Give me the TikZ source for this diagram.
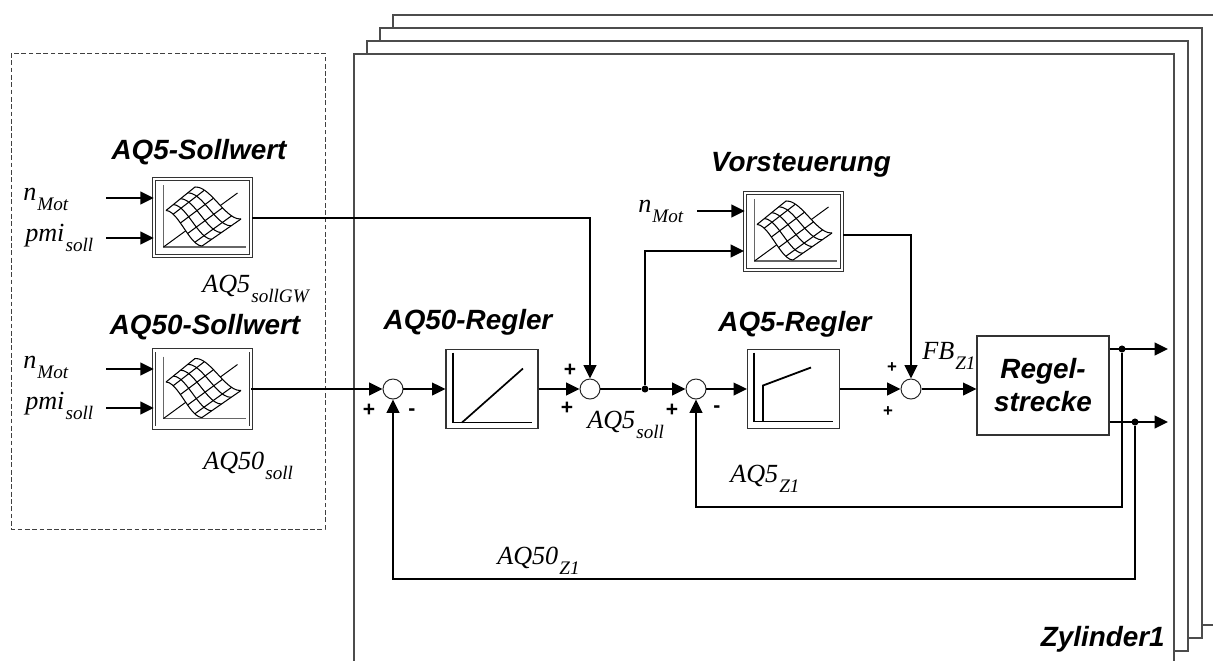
\documentclass[tikz,border=0pt]{standalone}
\usepackage{fontspec}
\setmainfont{Liberation Serif}
\setsansfont{Liberation Sans}
\usetikzlibrary{arrows.meta}
\newcommand{\Sig}[2]{{\fontsize{18.6}{20}\selectfont\itshape #1\kern.8pt\raisebox{-.85ex}{\fontsize{13.6}{15}\selectfont #2}}}
\tikzstyle{frame}=[line width=.8pt,draw=black!70,fill=white]
\tikzstyle{sig}=[line width=1.3pt,-{Triangle[length=9.5pt,width=9pt]}]
\tikzstyle{wire}=[line width=1.3pt]
\tikzstyle{summer}=[circle,draw=black!85,line width=.7pt,fill=white,inner sep=0pt,minimum size=.5cm]
\tikzstyle{dot}=[circle,fill=black,inner sep=0pt,minimum size=5pt]
\tikzstyle{mapblock}=[draw=black!80,line width=.5pt,double,double distance=1.7pt,fill=white,minimum width=2.42cm,minimum height=1.93cm,inner sep=0pt]
\tikzstyle{ctrlblock}=[draw=black!80,line width=.8pt,fill=white,minimum width=2.3cm,minimum height=1.975cm,inner sep=0pt]
\tikzstyle{titel}=[font=\fontsize{19.8}{23.5}\selectfont\sffamily\bfseries\itshape,align=center,inner sep=0pt]
\tikzstyle{signal}=[anchor=base west,inner sep=0pt]
\tikzstyle{plus}=[font=\fontsize{15}{16}\selectfont\sffamily\bfseries,inner sep=0pt]
\tikzstyle{smallplus}=[font=\fontsize{12}{13}\selectfont\sffamily\bfseries,inner sep=0pt]
\tikzset{
  kennfeld/.pic={
    \draw[line width=1.1pt,black!60] (-39,-32.5) -- (-39,29.5) -- (43,29.5);
    \draw[line width=.7pt] (-39,29.5) -- (35,-24.5);
    \fill[white] plot[domain=0:1,samples=13,smooth] ({-36.5+36*\x},{-7+35.5*(3*\x*\x-2*\x*\x*\x)})
      -- plot[domain=1:0,samples=13,smooth] ({-7.5+46*\x},{-30.5+32*(3*\x*\x-2*\x*\x*\x)}) -- cycle;
    \foreach \u in {0,.25,.5,.75,1}
      \draw[line width=.75pt] plot[domain=0:1,samples=13,smooth]
        ({-36.5+36*\x+29*\u+10*\u*\x},{-7+35.5*(3*\x*\x-2*\x*\x*\x)-23.5*\u-3.5*\u*\x});
    \foreach \v/\s in {0/0,.2/.104,.4/.352,.6/.648,.8/.896,1/1}
      \draw[line width=.75pt] (-36.5+36*\v,-7+35.5*\s) -- (-7.5+46*\v,-30.5+32*\s);
  },
  reglerp/.pic={
    \draw[line width=.9pt] (-39,-36.5) -- (-39,33.5) -- (40,33.5);
    \draw[line width=1.2pt] (-30,33.5) -- (31,-20.5);
  },
  reglerq/.pic={
    \draw[line width=.9pt] (-39.5,-36.5) -- (-39.5,32.5) -- (39.5,32.5);
    \draw[line width=1.3pt] (-30.5,32.5) -- (-30.5,-3.5) -- (17.5,-21.5);
  }
}
\begin{document}
\begin{tikzpicture}[x=.025cm,y=-.025cm]
  \useasboundingbox (0,0) rectangle (1213,660);
  %% Zylinder stack
  \begin{scope}
    \clip (0,0) rectangle (1213,660);
    \foreach \d in {39,26,13,0}
      \draw[frame] (354+\d,54-\d) rectangle (1174+\d+\d/13,664-\d);
  \end{scope}
  \draw (1165,639) node[titel,anchor=east] (zyl) {Zylinder1};

  %% Sollwert box
  \draw[line width=.6pt,black!75,dash pattern=on 3.4pt off 1.8pt] (11,53) rectangle (325,529);

  \draw (202.5,217.5) node[mapblock] (map5) {};
  \draw (202.5,389) node[mapblock] (map50) {};
  \draw (793.5,231.5) node[mapblock] (vorst) {};
  \draw (492,389) node[ctrlblock] (regA) {};
  \draw (793.5,389) node[ctrlblock] (regB) {};
  \draw (1043,385.5) node[ctrlblock,minimum width=3.3cm,minimum height=2.475cm,titel] (strecke) {Regel-\\strecke};
  \pic at (202.5,217.5) {kennfeld};
  \pic at (202.5,389) {kennfeld};
  \pic at (793.5,231.5) {kennfeld};
  \pic at (492,389) {reglerp};
  \pic at (793.5,389) {reglerq};

  \draw (393,389) node[summer] (s1) {};
  \draw (590,389) node[summer] (s2) {};
  \draw (696,389) node[summer] (s3) {};
  \draw (911,389) node[summer] (s4) {};
  \draw (645,389) node[dot] (d1) {};
  \draw (1122,349) node[dot] (d2) {};
  \draw (1135,422) node[dot] (d3) {};

  \coordinate (in1) at (106,198);
  \coordinate (in2) at (106,238);
  \coordinate (in3) at (106,369);
  \coordinate (in4) at (106,408);
  \coordinate (in5) at (697,211);
  \coordinate (in6) at (744,251);
  \coordinate (o5) at (252,218);
  \coordinate (ov) at (843,235);
  \coordinate (out1) at (1168,349);
  \coordinate (out2) at (1168,422);
  \coordinate (back1) at (696,507);
  \coordinate (back2) at (393,579);

  %% Signal lines
  \draw[sig] (in1) -- (in1 -| map5.west);
  \draw[sig] (in2) -- (in2 -| map5.west);
  \draw[sig] (in3) -- (in3 -| map50.west);
  \draw[sig] (in4) -- (in4 -| map50.west);
  \draw[sig] (in5) -- (in5 -| vorst.west);
  \draw[sig] (d1) |- (in6);
  \draw[sig] (o5) -| (s2);
  \draw[sig] (map50) -- (s1);
  \draw[sig] (s1) -- (regA);
  \draw[sig] (regA) -- (s2);
  \draw[wire] (s2) -- (d1);
  \draw[sig] (d1) -- (s3);
  \draw[sig] (s3) -- (regB);
  \draw[sig] (regB) -- (s4);
  \draw[sig] (ov) -| (s4);
  \draw[sig] (s4) -- (s4 -| strecke.west);
  \draw[sig] (out1 -| strecke.east) -- (out1);
  \draw[sig] (out2 -| strecke.east) -- (out2);
  \draw[sig] (d2) |- (back1) -- (s3);
  \draw[sig] (d3) |- (back2) -- (s1);

  %% Titles
  \draw (199,152) node[titel] (t1) {AQ5-Sollwert};
  \draw (205,327) node[titel] (t2) {AQ50-Sollwert};
  \draw (468,322) node[titel] (t3) {AQ50-Regler};
  \draw (795,324) node[titel] (t4) {AQ5-Regler};
  \draw (801,165) node[titel] (t5) {Vorsteuerung};

  %% Signal names
  \draw (23,200) node[signal] (l1) {\Sig{n}{Mot}};
  \draw (25,241) node[signal] (l2) {\Sig{pmi}{soll}};
  \draw (23,368) node[signal] (l3) {\Sig{n}{Mot}};
  \draw (25,409) node[signal] (l4) {\Sig{pmi}{soll}};
  \draw (638,212) node[signal] (l5) {\Sig{n}{Mot}};
  \draw (202,292) node[signal] (l6) {\Sig{AQ5}{sollGW}};
  \draw (203,469) node[signal] (l7) {\Sig{AQ50}{soll}};
  \draw (587,428) node[signal] (l8) {\Sig{AQ5}{soll}};
  \draw (922,359) node[signal] (l9) {\Sig{FB}{Z1}};
  \draw (730,482) node[signal] (l10) {\Sig{AQ5}{Z1}};
  \draw (497,564) node[signal] (l11) {\Sig{AQ50}{Z1}};

  %% Signs
  \draw (369,410) node[plus] (p1) {+};
  \draw (412,412) node[plus] (m1) {-};
  \draw (570,370) node[plus] (p2) {+};
  \draw (567,408) node[plus] (p3) {+};
  \draw (672,410) node[plus] (p4) {+};
  \draw (717,409) node[plus] (m2) {-};
  \draw (892,368) node[smallplus] (p5) {+};
  \draw (888,412) node[smallplus] (p6) {+};
\end{tikzpicture}
\end{document}
